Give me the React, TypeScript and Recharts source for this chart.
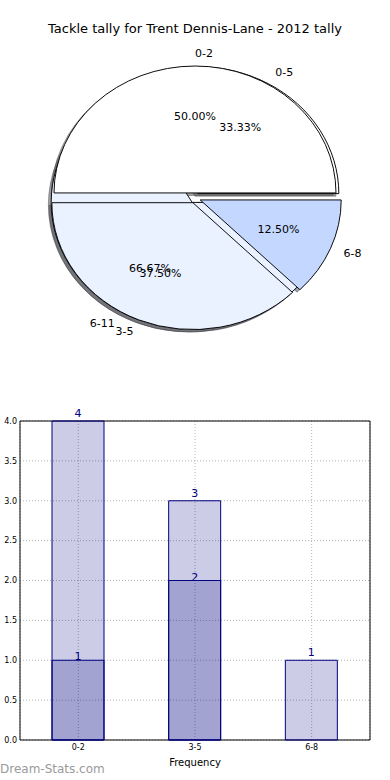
import {
  PieChart,
  Pie,
  Cell,
  BarChart,
  Bar,
  XAxis,
  YAxis,
  CartesianGrid,
  ReferenceArea,
  LabelList,
} from "recharts";

const chartTitle = "Tackle tally for Trent Dennis-Lane - 2012 tally";

// inner pie (drawn on top)
const rangeLabels = ["0-2", "3-5", "6-8"];
const rangeCounts = [4, 3, 1];
const rangeColors = ["#ffffff", "#eaf1ff", "#c4d8ff"];

// outer pie (drawn underneath)
const wideLabels = ["0-5", "6-11"];
const wideCounts = [1, 2];
const wideColors = ["#ffffff", "#eaf1ff"];

// bars
const barCategories = ["0-2", "3-5", "6-8"];
const totalTackles = [4, 3, 1];
const recentTackles = [1, 2, 0];
const yTicks = [0, 0.5, 1, 1.5, 2, 2.5, 3, 3.5, 4];

const FONT = "'DejaVu Sans', sans-serif";
const NAVY = "#000080";

// pie geometry (matplotlib style, squashed vertically)
const CX = 195;
const CY = 198;
const R = 141;
const SQUASH = 0.9;
const EXPLODE = 0.04 * R;
const SHADOW = 0.02 * R;

const rangeData = rangeLabels.map((name, i) => ({ name, value: rangeCounts[i] }));
const wideData = wideLabels.map((name, i) => ({ name, value: wideCounts[i] }));
const barData = barCategories.map((cat, i) => ({
  cat,
  total: totalTackles[i],
  recent: recentTackles[i],
}));

function midAngles(values: number[]) {
  const sum = values.reduce((a, b) => a + b, 0);
  let start = 0;
  return values.map((v) => {
    const span = (360 * v) / sum;
    const mid = start + span / 2;
    start += span;
    return mid;
  });
}

function shade(hex: string) {
  const n = parseInt(hex.slice(1), 16);
  const r = Math.round(((n >> 16) & 255) * 0.3);
  const g = Math.round(((n >> 8) & 255) * 0.3);
  const b = Math.round((n & 255) * 0.3);
  return `rgb(${r},${g},${b})`;
}

function slicePies(
  prefix: string,
  data: { name: string; value: number }[],
  colors: string[],
  shadow: boolean
) {
  const mids = midAngles(data.map((d) => d.value));
  return data.map((_, j) => {
    const rad = (mids[j] * Math.PI) / 180;
    let cx = CX + EXPLODE * Math.cos(rad);
    let cy = CY - EXPLODE * Math.sin(rad);
    if (shadow) {
      cx -= SHADOW;
      cy += SHADOW;
    }
    return (
      <Pie
        key={`${prefix}-${j}`}
        data={data}
        dataKey="value"
        cx={cx}
        cy={cy}
        outerRadius={R}
        startAngle={0}
        endAngle={360}
        labelLine={false}
        isAnimationActive={false}
      >
        {data.map((d, i) => (
          <Cell
            key={d.name}
            fill={i === j ? (shadow ? shade(colors[i]) : colors[i]) : "none"}
            fillOpacity={shadow ? 0.5 : 1}
            stroke={i === j ? (shadow ? shade(colors[i]) : "#000") : "none"}
            strokeOpacity={shadow ? 0.5 : 1}
            strokeWidth={1}
          />
        ))}
      </Pie>
    );
  });
}

function pieLabel(names: string[]) {
  return (props: any) => {
    const { cx, cy, midAngle, percent, index } = props;
    const rad = (midAngle * Math.PI) / 180;
    const c = Math.cos(rad);
    const s = Math.sin(rad);
    const ex = cx + EXPLODE * c;
    const ey = cy - EXPLODE * s;
    const lx = ex + 1.1 * R * c;
    const ly = ey - 1.1 * R * s;
    const px = ex + 0.6 * R * c;
    const py = ey - 0.6 * R * s;
    const unsquash = `scale(1 ${1 / SQUASH})`;
    return (
      <g key={`lbl-${names[index]}`}>
        <text
          transform={`translate(${lx} ${ly}) ${unsquash}`}
          textAnchor={c > 0 ? "start" : "end"}
          dominantBaseline="central"
          fontSize={11}
          fill="#000"
          fontFamily={FONT}
        >
          {names[index]}
        </text>
        <text
          transform={`translate(${px} ${py}) ${unsquash}`}
          textAnchor="middle"
          dominantBaseline="central"
          fontSize={11}
          fill="#000"
          fontFamily={FONT}
        >
          {(percent * 100).toFixed(2)}%
        </text>
      </g>
    );
  };
}

function labelPie(key: string, data: { name: string; value: number }[], names: string[]) {
  return (
    <Pie
      key={key}
      data={data}
      dataKey="value"
      cx={CX}
      cy={CY}
      outerRadius={R}
      startAngle={0}
      endAngle={360}
      labelLine={false}
      label={pieLabel(names)}
      isAnimationActive={false}
    >
      {data.map((d) => (
        <Cell key={d.name} fill="none" stroke="none" />
      ))}
    </Pie>
  );
}

export default function App() {
  return (
    <div
      style={{
        position: "absolute",
        left: 0,
        top: 0,
        width: 390,
        height: 780,
        background: "#fff",
        fontFamily: FONT,
      }}
    >
      <div
        style={{
          position: "absolute",
          top: 21,
          left: 0,
          width: 390,
          textAlign: "center",
          fontSize: 13,
          lineHeight: "16px",
          color: "#000",
        }}
      >
        {chartTitle}
      </div>

      <div
        style={{
          position: "absolute",
          top: 0,
          left: 0,
          width: 390,
          height: 390,
          transform: `scaleY(${SQUASH})`,
          transformOrigin: `${CX}px ${CY}px`,
        }}
      >
        <PieChart width={390} height={390} margin={{ top: 0, right: 0, bottom: 0, left: 0 }}>
          {slicePies("wide-shadow", wideData, wideColors, true)}
          {slicePies("range-shadow", rangeData, rangeColors, true)}
          {slicePies("wide", wideData, wideColors, false)}
          {slicePies("range", rangeData, rangeColors, false)}
          {labelPie("wide-labels", wideData, wideLabels)}
          {labelPie("range-labels", rangeData, rangeLabels)}
        </PieChart>
      </div>

      <div style={{ position: "absolute", top: 400, left: 0 }}>
        <BarChart
          width={390}
          height={380}
          data={barData}
          margin={{ top: 21, right: 20, bottom: 0, left: 0 }}
          accessibilityLayer={false}
        >
          <CartesianGrid xAxisId="main" stroke="#b4b4b4" strokeDasharray="1 2" />
          <XAxis xAxisId="back" dataKey="cat" hide height={0} />
          <XAxis
            xAxisId="main"
            dataKey="cat"
            height={40}
            tickLine={false}
            axisLine={false}
            tickSize={2}
            tickMargin={2}
            tick={{ fontSize: 8, fill: "#000" }}
            label={{ value: "Frequency", position: "insideBottom", offset: 14, fontSize: 10, fill: "#000" }}
          />
          <YAxis
            domain={[0, 4]}
            ticks={yTicks}
            width={20}
            tickSize={1}
            tickMargin={2}
            tickLine={false}
            axisLine={false}
            tickFormatter={(v: number) => v.toFixed(1)}
            tick={{ fontSize: 8, fill: "#000" }}
          />
          <Bar
            xAxisId="back"
            dataKey="total"
            fill={NAVY}
            fillOpacity={0.2}
            stroke={NAVY}
            barSize={52}
            isAnimationActive={false}
          >
            <LabelList dataKey="total" position="top" offset={4} fill={NAVY} fontSize={11} />
          </Bar>
          <Bar
            xAxisId="main"
            dataKey="recent"
            fill={NAVY}
            fillOpacity={0.2}
            stroke={NAVY}
            barSize={52}
            isAnimationActive={false}
          >
            <LabelList
              dataKey="recent"
              position="top"
              offset={0}
              fill={NAVY}
              fontSize={11}
              formatter={(v: any) => (v ? v : "")}
            />
          </Bar>
          <ReferenceArea xAxisId="main" y1={0} y2={4} fill="none" stroke="#000" strokeWidth={1} />
        </BarChart>
      </div>

      <div
        style={{
          position: "absolute",
          top: 762,
          left: 0,
          fontSize: 12,
          lineHeight: "14px",
          color: "#9a9a9a",
        }}
      >
        Dream-Stats.com
      </div>
    </div>
  );
}
